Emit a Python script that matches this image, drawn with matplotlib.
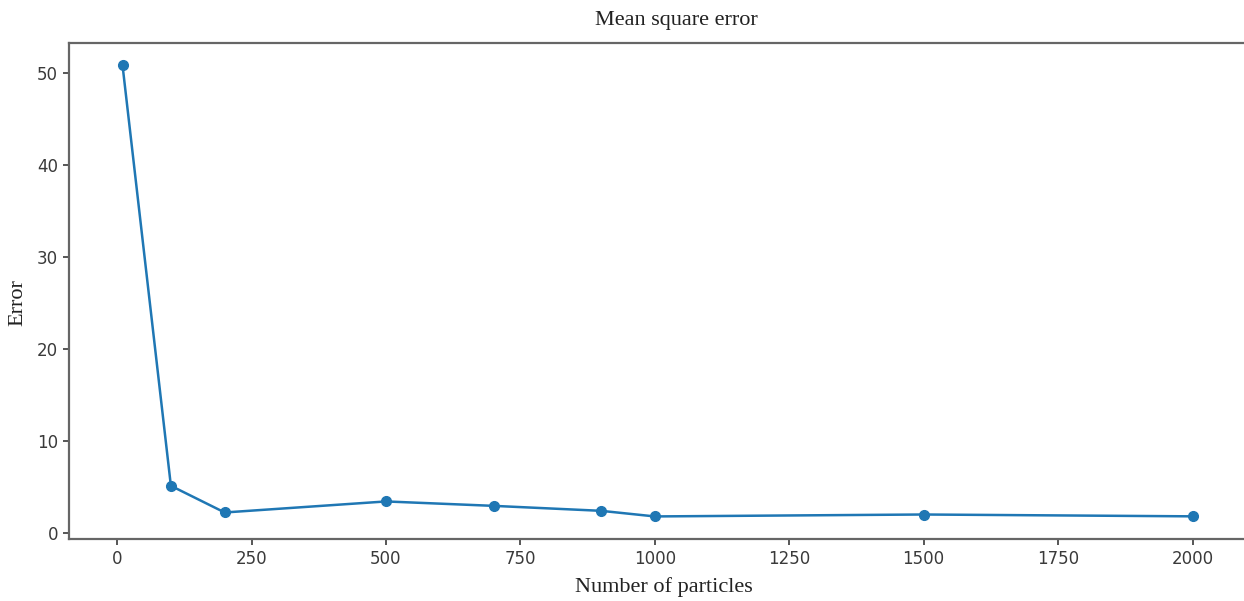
import matplotlib
matplotlib.use("Agg")
import matplotlib.pyplot as plt

plt.rcParams['font.family'] = ['DejaVu Sans']

particles = [10, 100, 200, 500, 700, 900, 1000, 1500, 2000]
errors = [50.9, 5.15, 2.25, 3.45, 2.97, 2.43, 1.82, 2.03, 1.83]

fig = plt.figure(figsize=(12.44, 6.01), dpi=100)
ax = fig.add_axes([69 / 1244, 1 - 539 / 601, 1177 / 1244, 496.5 / 601])

ax.plot(particles, errors, color="#1f77b4", marker="o", markersize=7, linewidth=1.8)

ax.set_xticks([0, 250, 500, 750, 1000, 1250, 1500, 1750, 2000])
ax.set_yticks([0, 10, 20, 30, 40, 50])
ax.tick_params(labelsize=12, colors="#3a3a3a", length=4.5, width=1.2)
for s in ax.spines.values():
    s.set_color("#666666")
    s.set_linewidth(1.6)

serif = ["Liberation Serif", "DejaVu Serif"]
fig.text(676 / 1244, 1 - 21 / 601, "Mean square error", family=serif, fontsize=16,
         ha="center", va="center", color="#222222")
fig.text(664 / 1244, 1 - 587 / 601, "Number of particles", family=serif, fontsize=16,
         ha="center", va="center", color="#222222")
fig.text(18 / 1244, 1 - 303 / 601, "Error", family=serif, fontsize=16, rotation=90,
         ha="center", va="center", color="#222222")

fig.savefig("out.png", dpi=100)
